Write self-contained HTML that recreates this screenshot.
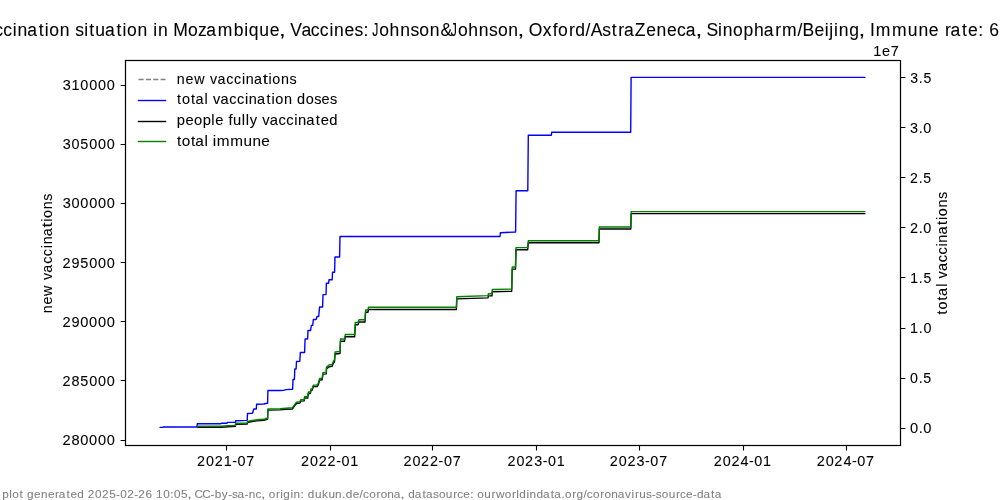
<!DOCTYPE html>
<html><head><meta charset="utf-8"><title>Vaccination situation in Mozambique</title>
<style>
html,body{margin:0;padding:0;background:#fff;width:1000px;height:500px;overflow:hidden}
svg{display:block;will-change:transform;font-family:"Liberation Sans",sans-serif}
text{white-space:pre;font-kerning:none;font-variant-ligatures:none}
</style></head><body>
<svg width="1000" height="500" viewBox="0 0 1000 500">
<rect width="1000" height="500" fill="#fff"/>
<rect x="125.5" y="60.5" width="775.0" height="385.0" fill="none" stroke="#000" stroke-width="1.22"/>
<path d="M226.5,445.5v4.9 M330.5,445.5v4.9 M432.5,445.5v4.9 M536.5,445.5v4.9 M639.5,445.5v4.9 M743.5,445.5v4.9 M846.5,445.5v4.9 M125.5,440.5h-4.9 M125.5,380.5h-4.9 M125.5,321.5h-4.9 M125.5,262.5h-4.9 M125.5,203.5h-4.9 M125.5,144.5h-4.9 M125.5,85.5h-4.9 M900.5,428.5h4.9 M900.5,378.5h4.9 M900.5,328.5h4.9 M900.5,277.5h4.9 M900.5,227.5h4.9 M900.5,177.5h4.9 M900.5,127.5h4.9 M900.5,77.5h4.9" stroke="#000" stroke-width="1.1" fill="none"/>
<path d="M160.20,427.40 L163.00,427.40 L163.30,427.00 L197.00,427.00 L197.30,423.70 L221.00,423.70 L221.30,423.30 L227.00,423.30 L227.30,422.40 L235.40,422.40 L235.70,420.80 L247.20,420.40 L247.50,413.50 L252.50,413.20 L253.80,409.00 L256.30,409.00 L256.60,404.30 L264.00,404.00 L265.50,403.50 L267.60,403.30 L267.90,390.50 L280.00,390.50 L284.00,390.20 L286.00,389.60 L292.60,389.30 L293.00,379.50 L294.40,379.50 L294.80,369.00 L296.10,369.00 L296.50,361.50 L299.80,361.30 L300.30,352.50 L304.60,352.50 L305.10,339.00 L307.60,339.00 L308.00,330.50 L310.60,330.50 L311.40,325.50 L312.70,325.30 L313.40,319.50 L316.10,319.50 L317.00,316.50 L318.70,316.50 L319.60,307.00 L322.60,307.00 L323.00,294.60 L326.00,294.60 L326.40,283.20 L328.60,283.20 L329.00,279.80 L332.20,279.80 L332.50,272.20 L334.60,272.20 L335.00,257.00 L339.60,257.00 L340.00,236.50 L500.00,236.50 L500.40,232.70 L515.60,232.00 L516.10,190.80 L527.80,190.80 L528.30,135.20 L551.30,135.20 L551.70,132.30 L630.70,132.30 L631.10,77.40 L864.80,77.40" stroke="#0000ff" stroke-width="1.39" fill="none" stroke-linejoin="round" stroke-linecap="square"/>
<path d="M197.90,427.22 L221.00,427.22 L228.00,426.73 L235.40,426.33 L235.60,424.26 L247.30,423.97 L247.50,422.49 L252.00,421.50 L257.00,420.82 L264.00,420.32 L266.00,419.54 L267.60,419.34 L267.90,410.18 L280.00,409.88 L286.00,409.39 L292.30,409.00 L294.40,406.14 L296.50,403.48 L299.90,403.09 L300.70,401.12 L304.10,400.92 L304.70,397.87 L307.70,398.06 L308.30,393.43 L310.40,393.43 L311.00,390.38 L312.20,390.18 L313.30,386.64 L317.10,386.54 L318.40,384.57 L319.60,380.04 L322.10,379.84 L323.00,374.13 L326.30,373.83 L326.50,368.81 L329.00,366.84 L332.00,366.35 L333.50,362.90 L334.50,361.91 L335.00,354.03 L340.00,353.54 L340.50,341.23 L344.50,341.23 L345.30,336.75 L354.70,336.75 L355.30,324.75 L358.00,324.75 L359.00,321.95 L365.00,321.95 L365.60,312.25 L368.00,312.25 L368.50,309.45 L456.40,309.45 L456.80,298.92 L488.00,297.82 L488.40,295.91 L492.00,295.91 L492.30,291.70 L511.70,291.30 L512.20,269.14 L515.50,269.14 L516.00,249.69 L527.70,249.69 L528.30,242.78 L599.00,242.78 L599.30,229.04 L630.80,229.04 L631.20,213.60 L864.80,213.60" stroke="#000000" stroke-width="1.39" fill="none" stroke-linejoin="round" stroke-linecap="square"/>
<path d="M197.90,426.30 L221.00,426.30 L228.00,425.80 L235.40,425.40 L235.60,423.30 L247.30,423.00 L247.50,421.50 L252.00,420.50 L257.00,419.80 L264.00,419.30 L266.00,418.50 L267.60,418.30 L267.90,409.00 L280.00,408.70 L286.00,408.20 L292.30,407.80 L294.40,404.90 L296.50,402.20 L299.90,401.80 L300.70,399.80 L304.10,399.60 L304.70,396.50 L307.70,396.70 L308.30,392.00 L310.40,392.00 L311.00,388.90 L312.20,388.70 L313.30,385.10 L317.10,385.00 L318.40,383.00 L319.60,378.40 L322.10,378.20 L323.00,372.40 L326.30,372.10 L326.50,367.00 L329.00,365.00 L332.00,364.50 L333.50,361.00 L334.50,360.00 L335.00,352.00 L340.00,351.50 L340.50,339.00 L344.50,339.00 L345.30,334.50 L354.70,334.50 L355.30,322.50 L358.00,322.50 L359.00,319.70 L365.00,319.70 L365.60,310.00 L368.00,310.00 L368.50,307.20 L456.40,307.20 L456.80,296.70 L488.00,295.60 L488.40,293.70 L492.00,293.70 L492.30,289.50 L511.70,289.10 L512.20,267.00 L515.50,267.00 L516.00,247.60 L527.70,247.60 L528.30,240.70 L599.00,240.70 L599.30,227.00 L630.80,227.00 L631.20,211.60 L864.80,211.60" stroke="#008000" stroke-width="1.39" fill="none" stroke-linejoin="round" stroke-linecap="square"/>
<path d="M138.5,79.5H165.5" stroke="#808080" stroke-width="1.4" stroke-dasharray="5.14 2.22" fill="none"/>
<path d="M137.8,100.5H166.2" stroke="#0000ff" stroke-width="1.4" fill="none"/>
<path d="M137.8,121.5H166.2" stroke="#000000" stroke-width="1.4" fill="none"/>
<path d="M137.8,141.5H166.2" stroke="#008000" stroke-width="1.4" fill="none"/>
<text transform="translate(0,84.00) scale(0.9711,0.9878)" x="182.11 191.05 200.04 211.21 216.30 223.97 233.07 240.93 249.08 253.15 261.50 270.60 276.49 280.38 289.31 298.07" y="0" font-size="14.72" fill="#000" stroke="#000" stroke-width="0.08">new vaccina<tspan textLength="5.32" lengthAdjust="spacingAndGlyphs">t</tspan>ions</text>
<text transform="translate(0,104.00) scale(0.9842,0.9916)" x="179.91 184.98 194.07 198.62 207.90 211.49 216.47 224.03 233.01 240.77 248.84 252.82 261.06 270.69 275.89 279.69 288.50 297.04 301.82 310.71 319.22 326.75 335.26" y="0" font-size="14.72" fill="#000" stroke="#000" stroke-width="0.08">total vaccination doses</text>
<text transform="translate(0,125.00) scale(1.0011,0.9860)" x="176.59 185.21 193.69 202.42 211.13 214.90 223.23 228.20 232.79 241.61 245.46 249.44 257.23 262.06 269.48 278.32 285.95 293.92 297.79 305.89 315.39 320.41 328.96" y="0" font-size="14.72" fill="#000" stroke="#000" stroke-width="0.08">people fully vaccinated</text>
<text transform="translate(0,146.00) scale(1.0409,0.9913)" x="170.00 174.69 183.39 187.57 196.49 199.98 204.45 208.32 221.32 234.03 242.54 250.88" y="0" font-size="14.72" fill="#000" stroke="#000" stroke-width="0.08">total immune</text>
<text transform="translate(0,466.00) scale(0.9764,1.0024)" x="201.79 211.01 219.89 229.04 237.86 243.29 252.33" y="0" font-size="14.72" fill="#000" stroke="#000" stroke-width="0.08">2021-07</text>
<text transform="translate(0,466.00) scale(0.9745,1.0030)" x="308.94 318.18 327.08 336.15 345.08 350.53 359.53" y="0" font-size="14.72" fill="#000" stroke="#000" stroke-width="0.08">2022-01</text>
<text transform="translate(0,466.00) scale(0.9777,1.0030)" x="412.59 421.80 430.67 439.71 448.62 454.04 463.07" y="0" font-size="14.72" fill="#000" stroke="#000" stroke-width="0.08">2022-07</text>
<text transform="translate(0,466.00) scale(0.9737,1.0037)" x="521.16 530.40 539.31 548.59 557.33 562.78 571.78" y="0" font-size="14.72" fill="#000" stroke="#000" stroke-width="0.08">2023-01</text>
<text transform="translate(0,466.00) scale(0.9769,1.0037)" x="624.21 633.43 642.30 651.55 660.27 665.70 674.73" y="0" font-size="14.72" fill="#000" stroke="#000" stroke-width="0.08">2023-07</text>
<text transform="translate(0,466.00) scale(0.9802,1.0024)" x="728.22 737.40 746.25 755.45 764.16 769.56 778.51" y="0" font-size="14.72" fill="#000" stroke="#000" stroke-width="0.08">2024-01</text>
<text transform="translate(0,466.00) scale(0.9833,1.0024)" x="830.56 839.72 848.54 857.71 866.39 871.78 880.75" y="0" font-size="14.72" fill="#000" stroke="#000" stroke-width="0.08">2024-07</text>
<text transform="translate(0,445.00) scale(0.9909,1.0066)" x="63.02 72.11 81.02 89.94 98.86 107.77" y="0" font-size="14.72" fill="#000" stroke="#000" stroke-width="0.08">280000</text>
<text transform="translate(0,386.00) scale(0.9813,1.0061)" x="63.67 72.85 81.80 90.86 99.86 108.87" y="0" font-size="14.72" fill="#000" stroke="#000" stroke-width="0.08">285000</text>
<text transform="translate(0,327.00) scale(0.9943,1.0066)" x="62.78 71.80 80.73 89.61 98.50 107.39" y="0" font-size="14.72" fill="#000" stroke="#000" stroke-width="0.08">290000</text>
<text transform="translate(0,268.00) scale(0.9847,1.0061)" x="63.44 72.54 81.50 90.53 99.50 108.47" y="0" font-size="14.72" fill="#000" stroke="#000" stroke-width="0.08">295000</text>
<text transform="translate(0,208.00) scale(0.9881,1.0074)" x="63.40 72.32 81.26 90.20 99.14 108.09" y="0" font-size="14.72" fill="#000" stroke="#000" stroke-width="0.08">300000</text>
<text transform="translate(0,149.00) scale(0.9786,1.0068)" x="64.06 73.06 82.04 91.12 100.15 109.18" y="0" font-size="14.72" fill="#000" stroke="#000" stroke-width="0.08">305000</text>
<text transform="translate(0,90.00) scale(0.9812,1.0061)" x="63.88 72.79 81.86 90.87 99.88 108.88" y="0" font-size="14.72" fill="#000" stroke="#000" stroke-width="0.08">310000</text>
<text transform="translate(0,433.00) scale(0.9971,1.0134)" x="912.69 921.38 925.98" y="0" font-size="14.72" fill="#000" stroke="#000" stroke-width="0.08">0.0</text>
<text transform="translate(0,383.00) scale(0.9712,1.0120)" x="937.09 945.96 950.68" y="0" font-size="14.72" fill="#000" stroke="#000" stroke-width="0.08">0.5</text>
<text transform="translate(0,333.00) scale(0.9781,1.0099)" x="930.47 939.36 944.08" y="0" font-size="14.72" fill="#000" stroke="#000" stroke-width="0.08">1.0</text>
<text transform="translate(0,283.00) scale(0.9509,1.0085)" x="957.14 966.23 971.09" y="0" font-size="14.72" fill="#000" stroke="#000" stroke-width="0.08">1.5</text>
<text transform="translate(0,233.00) scale(0.9818,1.0114)" x="926.78 935.75 940.45" y="0" font-size="14.72" fill="#000" stroke="#000" stroke-width="0.08">2.0</text>
<text transform="translate(0,183.00) scale(0.9553,1.0099)" x="952.59 961.75 966.59" y="0" font-size="14.72" fill="#000" stroke="#000" stroke-width="0.08">2.5</text>
<text transform="translate(0,133.00) scale(0.9793,1.0134)" x="929.35 938.13 942.85" y="0" font-size="14.72" fill="#000" stroke="#000" stroke-width="0.08">3.0</text>
<text transform="translate(0,83.00) scale(0.9533,1.0120)" x="954.82 963.79 968.64" y="0" font-size="14.72" fill="#000" stroke="#000" stroke-width="0.08">3.5</text>
<text transform="translate(0,56.00) scale(0.9816,0.9964)" x="889.64 898.61 907.40" y="0" font-size="14.72" fill="#000" stroke="#000" stroke-width="0.08">1e7</text>
<text transform="translate(0,36.00) scale(0.9926,0.9961)" x="-26.55 -15.31 -5.92 3.31 12.93 17.64 27.44 38.93 45.11 49.61 60.09 70.30 75.73 84.78 89.84 96.00 105.87 117.36 123.54 128.04 138.52 148.73 154.46 159.17 169.37 174.61 189.42 199.53 207.88 219.43 235.45 245.98 250.56 261.28 271.85 281.00 287.22 292.40 303.64 313.03 322.26 331.89 336.60 347.10 357.22 366.26 371.54 374.91 382.05 392.51 403.18 413.47 422.36 432.84 443.79 454.18 461.32 471.77 482.44 492.74 501.62 512.11 521.43 527.65 532.73 546.71 556.85 562.28 573.16 579.54 589.96 595.09 606.82 616.27 622.90 628.56 639.61 651.06 661.53 672.03 682.07 690.89 700.71 706.92 711.78 723.31 728.02 738.45 749.02 759.57 769.39 780.92 787.85 803.43 808.55 820.52 830.95 835.47 840.28 844.99 855.51 864.97 871.19 876.55 882.34 898.70 914.57 925.27 935.77 945.81 951.98 957.65 969.13 975.22 985.64 990.91 996.67 1007.14 1017.81 1023.38 1034.00 1044.45" y="0" font-size="17.67" fill="#000" stroke="#000" stroke-width="0.08">Vaccination situation in Mozambique<tspan textLength="6.79" lengthAdjust="spacingAndGlyphs">,</tspan> Vaccines: <tspan textLength="6.18" lengthAdjust="spacingAndGlyphs">J</tspan>ohnson&amp;<tspan textLength="6.18" lengthAdjust="spacingAndGlyphs">J</tspan>ohnson<tspan textLength="6.79" lengthAdjust="spacingAndGlyphs">,</tspan> Oxford/AstraZeneca<tspan textLength="6.79" lengthAdjust="spacingAndGlyphs">,</tspan> Sinopharm/Beijing<tspan textLength="6.79" lengthAdjust="spacingAndGlyphs">,</tspan> Immune rate: 62.49%</text>
<text transform="translate(0,497.60) scale(1.0001,0.9901)" x="2.32 9.29 12.26 19.45 23.29 27.01 34.05 40.98 47.92 55.12 58.86 66.47 70.49 77.34 84.21 87.85 95.06 101.99 109.16 116.06 120.27 127.21 134.21 138.28 145.50 152.31 156.03 163.16 170.22 173.97 181.00 187.27 191.39 194.49 202.24 210.48 214.76 221.84 228.12 231.92 237.38 244.53 248.76 255.51 261.06 265.17 268.83 276.04 280.32 283.34 290.46 293.56 300.58 304.08 307.80 314.89 322.06 328.36 335.10 342.00 345.60 352.64 359.54 363.02 369.28 376.48 380.64 387.34 393.82 400.34 404.45 408.17 414.74 422.36 425.91 433.05 438.92 445.82 453.17 457.18 463.24 470.15 473.65 477.30 484.20 491.55 495.87 504.80 512.00 516.28 519.31 526.43 529.53 536.49 543.06 550.68 554.23 561.45 564.99 572.19 576.41 583.32 586.81 593.06 600.27 604.43 611.12 617.60 625.04 631.53 634.90 639.16 646.01 651.81 655.81 661.69 668.58 675.93 679.95 686.00 692.71 696.86 703.44 711.05 714.60" y="0" font-size="11.78" fill="#808080" stroke="#808080" stroke-width="0.08">plot generated 2025-02-26 10:05<tspan textLength="4.49" lengthAdjust="spacingAndGlyphs">,</tspan> CC-by-sa-nc<tspan textLength="4.49" lengthAdjust="spacingAndGlyphs">,</tspan> origin: dukun.de/corona<tspan textLength="4.49" lengthAdjust="spacingAndGlyphs">,</tspan> datasource: ourworldindata.org/coronavirus-source-data</text>
<g transform="translate(52.1,253.7) rotate(-90)"><text transform="translate(0,0.00) scale(0.9711,0.9878)" x="-61.40 -52.45 -43.47 -32.30 -27.20 -19.53 -10.44 -2.57 5.58 9.64 18.00 27.09 32.99 36.88 45.80 54.56" y="0" font-size="14.72" fill="#000" stroke="#000" stroke-width="0.08">new vaccina<tspan textLength="5.32" lengthAdjust="spacingAndGlyphs">t</tspan>ions</text></g>
<g transform="translate(947.2,253.5) rotate(-90)"><text transform="translate(0,0.00) scale(0.9827,0.9919)" x="-61.99 -56.91 -47.81 -43.25 -33.96 -30.36 -25.37 -17.80 -8.81 -1.03 7.04 11.03 19.29 28.93 34.13 37.94 46.77 55.43" y="0" font-size="14.72" fill="#000" stroke="#000" stroke-width="0.08">total vaccinations</text></g>
</svg>
</body></html>
